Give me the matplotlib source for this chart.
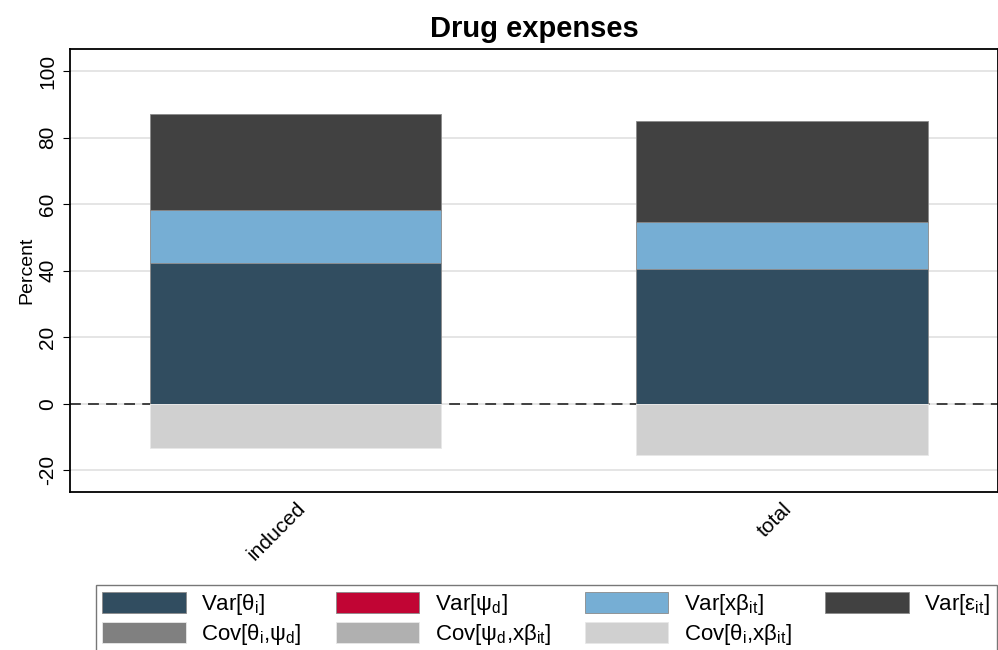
import numpy as np
import matplotlib.pyplot as plt

plt.rcParams['font.family'] = ['Liberation Sans', 'DejaVu Sans']
plt.rcParams['mathtext.fontset'] = 'custom'
plt.rcParams['mathtext.rm'] = 'Liberation Sans'
plt.rcParams['axes.unicode_minus'] = False

categories = ['induced', 'total']

# positive components (stacked upward from 0)
var_theta = [42.3, 40.5]
var_psi = [0.15, 0.1]
var_xb = [15.7, 14.1]
var_eps = [29.0, 30.2]
# covariance components (stacked downward from 0)
cov_theta_psi = [0.0, 0.0]
cov_psi_xb = [0.0, 0.0]
cov_theta_xb = [-13.3, -15.3]

labels = {
    'var_theta': 'Var[θ$_\\mathrm{i}$]',
    'var_psi': 'Var[ψ$_\\mathrm{d}$]',
    'var_xb': 'Var[xβ$_\\mathrm{it}$]',
    'var_eps': 'Var[ε$_\\mathrm{it}$]',
    'cov_theta_psi': 'Cov[θ$_\\mathrm{i}$,ψ$_\\mathrm{d}$]',
    'cov_psi_xb': 'Cov[ψ$_\\mathrm{d}$,xβ$_\\mathrm{it}$]',
    'cov_theta_xb': 'Cov[θ$_\\mathrm{i}$,xβ$_\\mathrm{it}$]',
}
colors = {
    'var_theta': '#314d60',
    'var_psi': '#c10534',
    'var_xb': '#76aed4',
    'var_eps': '#414141',
    'cov_theta_psi': '#808080',
    'cov_psi_xb': '#b0b0b0',
    'cov_theta_xb': '#d0d0d0',
}

fig = plt.figure(figsize=(9.98, 6.5), dpi=100)
ax = fig.add_axes([0.0701, 0.243, 0.93, 0.6816])

x = np.arange(len(categories))
w = 0.6
handles = {}

pos_series = [('var_theta', var_theta), ('var_psi', var_psi),
              ('var_xb', var_xb), ('var_eps', var_eps)]
bottom = np.zeros(len(categories))
for key, vals in pos_series:
    vals = np.array(vals)
    handles[key] = ax.bar(x, vals, w, bottom=bottom, color=colors[key],
                          edgecolor='#8a8a8a', linewidth=0.6, zorder=2)
    bottom += vals

neg_series = [('cov_theta_psi', cov_theta_psi), ('cov_psi_xb', cov_psi_xb),
              ('cov_theta_xb', cov_theta_xb)]
bottom = np.zeros(len(categories))
for key, vals in neg_series:
    vals = np.array(vals)
    handles[key] = ax.bar(x, vals, w, bottom=bottom, color=colors[key],
                          edgecolor='#e8e8e8', linewidth=0.6, zorder=2)
    bottom += vals

ax.axhline(0, color='#333333', ls=(0, (6, 4)), lw=1.3, zorder=1)

ax.set_xlim(-0.464, 1.445)
ax.set_ylim(-26.5, 106.6)
ax.set_yticks([-20, 0, 20, 40, 60, 80, 100])
ax.yaxis.grid(True, color='#e0e0e0', lw=1.2, zorder=0)
ax.set_axisbelow(True)
ax.tick_params(axis='y', labelrotation=90, labelsize=15, length=5, pad=4)
for t in ax.get_yticklabels():
    t.set_va('center')
ax.set_xticks(x)
ax.set_xticklabels(categories, rotation=45, ha='right', rotation_mode='anchor',
                   fontsize=15)
ax.tick_params(axis='x', length=0, pad=5)
ax.set_ylabel('Percent', fontsize=14, labelpad=2)
for s in ax.spines.values():
    s.set_linewidth(1.3)
ax.set_title('Drug expenses', fontsize=21, fontweight='bold', pad=9)

order = ['var_theta', 'cov_theta_psi', 'var_psi', 'cov_psi_xb',
         'var_xb', 'cov_theta_xb', 'var_eps']
leg = fig.legend([handles[k] for k in order], [labels[k] for k in order],
                 ncol=4, loc='upper left', bbox_to_anchor=(0.096, 0.1, 0.903, 0),
                 mode='expand', fancybox=False, edgecolor='#555555',
                 fontsize=16, handlelength=3.75, handleheight=1.1,
                 columnspacing=1.0, handletextpad=0.7, borderaxespad=0,
                 borderpad=0.3, labelspacing=0.22)
leg.get_frame().set_linewidth(1.0)

fig.savefig('out.png', dpi=100)
